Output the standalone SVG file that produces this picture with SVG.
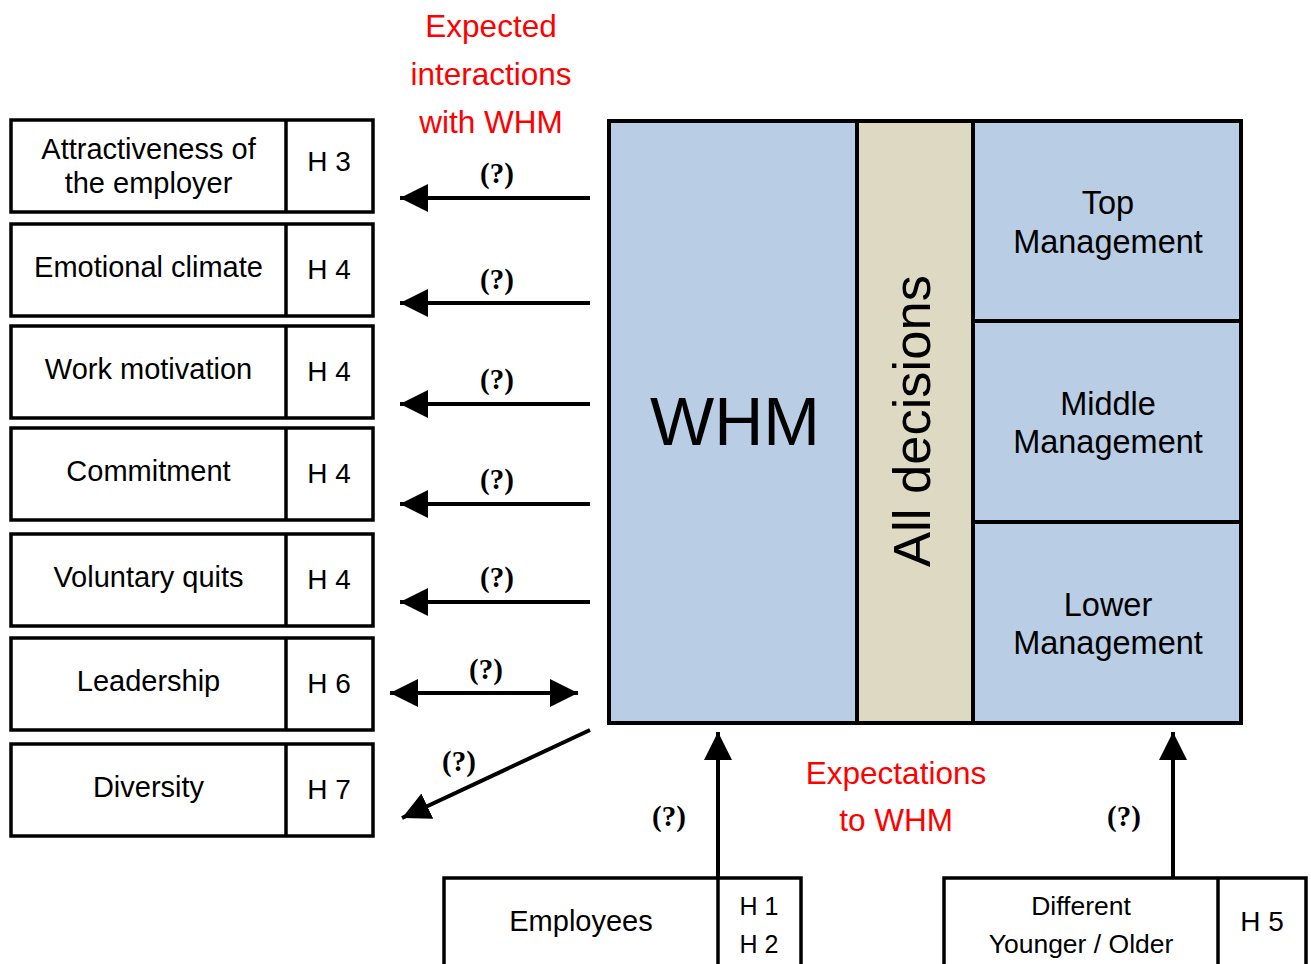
<svg xmlns="http://www.w3.org/2000/svg" width="1311" height="964" viewBox="0 0 1311 964">
<style>
.box{fill:#fff;stroke:#000;stroke-width:3.5}
.t{font-family:"Liberation Sans",Arial,sans-serif;font-size:29px;fill:#000;text-anchor:middle}
.h{font-family:"Liberation Sans",Arial,sans-serif;font-size:28px;fill:#000;text-anchor:middle}
.q{font-family:"Liberation Serif","Times New Roman",serif;font-size:29px;font-weight:bold;fill:#000;text-anchor:middle}
.red{font-family:"Liberation Sans",Arial,sans-serif;font-size:31.5px;fill:#FF0000;text-anchor:middle}
.blue{fill:#B9CDE5;stroke:#000;stroke-width:4}
.beige{fill:#DDD9C3;stroke:#000;stroke-width:4}
.mg{font-family:"Liberation Sans",Arial,sans-serif;font-size:32.5px;fill:#000;text-anchor:middle}
.arr{stroke:#000;stroke-width:4;fill:none;marker-end:url(#ah)}
</style>
<defs>
<marker id="ah" markerUnits="userSpaceOnUse" markerWidth="30" markerHeight="30" refX="28" refY="14" orient="auto-start-reverse" viewBox="0 0 30 30">
<path d="M0,0 L28,14 L0,28 z" fill="#000"/>
</marker>
</defs>
<rect width="1311" height="964" fill="#fff"/>

<g id="main-block">
<rect class="blue" x="609" y="121" width="248" height="602"/>
<rect class="beige" x="857" y="121" width="116" height="602"/>
<rect class="blue" x="973" y="121" width="268" height="200"/>
<rect class="blue" x="973" y="321" width="268" height="201"/>
<rect class="blue" x="973" y="522" width="268" height="201"/>
<text x="735" y="445" style="font-family:'Liberation Sans',Arial,sans-serif;font-size:68px;text-anchor:middle">WHM</text>
<text transform="translate(930,421) rotate(-90)" style="font-family:'Liberation Sans',Arial,sans-serif;font-size:52.5px;text-anchor:middle">All decisions</text>
<text class="mg" x="1108" y="214">Top</text>
<text class="mg" x="1108" y="253">Management</text>
<text class="mg" x="1108" y="415">Middle</text>
<text class="mg" x="1108" y="453">Management</text>
<text class="mg" x="1108" y="616">Lower</text>
<text class="mg" x="1108" y="654">Management</text>
</g>

<g id="n-attract">
<rect class="box" x="11" y="120" width="362" height="92"/>
<line x1="286" y1="120" x2="286" y2="212" stroke="#000" stroke-width="3.5"/>
<text class="t" x="148.5" y="159">Attractiveness of</text>
<text class="t" x="148.5" y="193">the employer</text>
<text class="h" x="329" y="171">H 3</text>
</g>
<g id="n-emotional">
<rect class="box" x="11" y="224" width="362" height="92"/>
<line x1="286" y1="224" x2="286" y2="316" stroke="#000" stroke-width="3.5"/>
<text class="t" x="148.5" y="277">Emotional climate</text>
<text class="h" x="329" y="279">H 4</text>
</g>
<g id="n-motivation">
<rect class="box" x="11" y="326" width="362" height="92"/>
<line x1="286" y1="326" x2="286" y2="418" stroke="#000" stroke-width="3.5"/>
<text class="t" x="148.5" y="379">Work motivation</text>
<text class="h" x="329" y="381">H 4</text>
</g>
<g id="n-commitment">
<rect class="box" x="11" y="428" width="362" height="92"/>
<line x1="286" y1="428" x2="286" y2="520" stroke="#000" stroke-width="3.5"/>
<text class="t" x="148.5" y="481">Commitment</text>
<text class="h" x="329" y="483">H 4</text>
</g>
<g id="n-quits">
<rect class="box" x="11" y="534" width="362" height="92"/>
<line x1="286" y1="534" x2="286" y2="626" stroke="#000" stroke-width="3.5"/>
<text class="t" x="148.5" y="587">Voluntary quits</text>
<text class="h" x="329" y="589">H 4</text>
</g>
<g id="n-leadership">
<rect class="box" x="11" y="638" width="362" height="92"/>
<line x1="286" y1="638" x2="286" y2="730" stroke="#000" stroke-width="3.5"/>
<text class="t" x="148.5" y="691">Leadership</text>
<text class="h" x="329" y="693">H 6</text>
</g>
<g id="n-diversity">
<rect class="box" x="11" y="744" width="362" height="92"/>
<line x1="286" y1="744" x2="286" y2="836" stroke="#000" stroke-width="3.5"/>
<text class="t" x="148.5" y="797">Diversity</text>
<text class="h" x="329" y="799">H 7</text>
</g>

<g id="n-employees">
<rect class="box" x="444" y="878" width="357" height="120"/>
<line x1="718" y1="878" x2="718" y2="998" stroke="#000" stroke-width="3.5"/>
<text class="t" x="581" y="931">Employees</text>
<text class="h" x="759" y="915" style="font-size:25px">H 1</text>
<text class="h" x="759" y="953" style="font-size:25px">H 2</text>
</g>
<g id="n-different">
<rect class="box" x="944" y="878" width="362" height="120"/>
<line x1="1218" y1="878" x2="1218" y2="998" stroke="#000" stroke-width="3.5"/>
<text class="t" x="1081" y="915" style="font-size:26.5px">Different</text>
<text class="t" x="1081" y="953" style="font-size:26.5px">Younger / Older</text>
<text class="h" x="1262" y="931">H 5</text>
</g>

<g id="labels">
<text class="red" x="491" y="37">Expected</text>
<text class="red" x="491" y="85">interactions</text>
<text class="red" x="491" y="133">with WHM</text>
<text class="red" x="896" y="784">Expectations</text>
<text class="red" x="896" y="831">to WHM</text>
</g>

<g id="connectors">
<line class="arr" x1="590" y1="198" x2="400" y2="198"/>
<line class="arr" x1="590" y1="303" x2="400" y2="303"/>
<line class="arr" x1="590" y1="404" x2="400" y2="404"/>
<line class="arr" x1="590" y1="504" x2="400" y2="504"/>
<line class="arr" x1="590" y1="602" x2="400" y2="602"/>
<line class="arr" x1="390" y1="693" x2="578" y2="693" style="marker-start:url(#ah)"/>
<line class="arr" x1="590" y1="730" x2="402" y2="818"/>
<line class="arr" x1="718" y1="878" x2="718" y2="732"/>
<line class="arr" x1="1173" y1="878" x2="1173" y2="732"/>
<text class="q" x="497" y="183">(?)</text>
<text class="q" x="497" y="289">(?)</text>
<text class="q" x="497" y="389">(?)</text>
<text class="q" x="497" y="489">(?)</text>
<text class="q" x="497" y="587">(?)</text>
<text class="q" x="486" y="679">(?)</text>
<text class="q" x="459" y="771">(?)</text>
<text class="q" x="669" y="826">(?)</text>
<text class="q" x="1124" y="826">(?)</text>
</g>
</svg>
